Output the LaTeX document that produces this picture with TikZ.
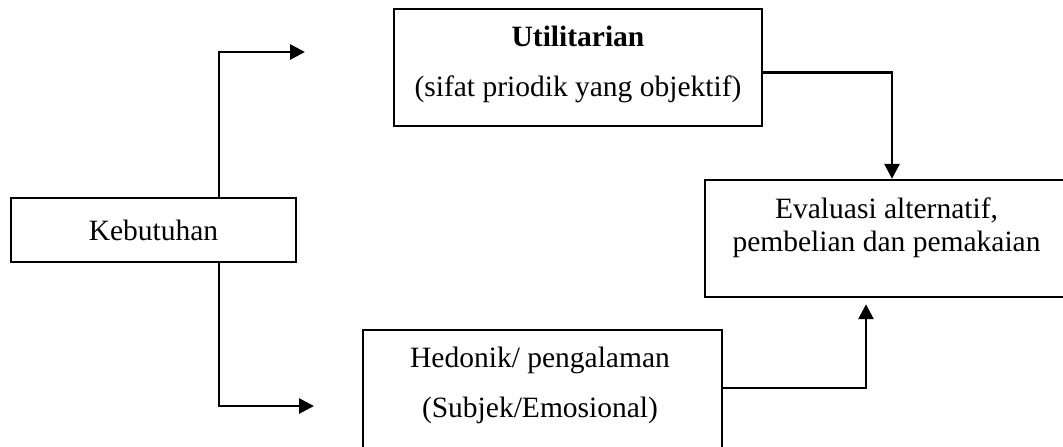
\documentclass[tikz,border=0pt]{standalone}
\usepackage{fontspec}
\setmainfont{Liberation Serif}
\usetikzlibrary{arrows.meta}

\begin{document}
\begin{tikzpicture}[x=0.5pt,y=-0.5pt,
  kotak/.style={draw,line width=1.2pt,inner sep=0pt},
  teks/.style={align=center,inner sep=0pt,font=\fontsize{14.75pt}{25pt}\selectfont},
  panah/.style={line width=1.4pt,-{Triangle[length=7.5pt,width=7.5pt]}}]
\useasboundingbox (0,0) rectangle (1063,446);
\clip (0,0) rectangle (1063,446);
\node [kotak,teks,minimum width=142.5pt,minimum height=32pt] (kebutuhan) at (153.5,230) {Kebutuhan};
\node [kotak,minimum width=184pt,minimum height=58.5pt] (utilitarian) at (578,67.5) {};
\node [teks] (utilitarianTeks) at (578,64) {\textbf{Utilitarian}\\(sifat priodik yang objektif)};
\node [kotak,minimum width=181.5pt,minimum height=58.5pt] (evaluasi) at (886.5,238.5) {};
\node [teks,font=\fontsize{14.75pt}{16.5pt}\selectfont] (evaluasiTeks) at (886.5,228) {Evaluasi alternatif,\\pembelian dan pemakaian};
\node [kotak,minimum width=179.5pt,minimum height=65pt] (hedonik) at (542.5,395) {};
\node [teks] (hedonikTeks) at (540,385) {Hedonik/ pengalaman\\(Subjek/Emosional)};
\coordinate (belokAtas) at (219,52);
\coordinate (ujungAtas) at (305,52);
\coordinate (belokBawah) at (219,406);
\coordinate (ujungBawah) at (314,406);
\coordinate (belokKanan) at (892,72.7);
\coordinate (belokHedonik) at (866,388);
\draw [panah] (kebutuhan.north -| belokAtas) -- (belokAtas) -- (ujungAtas);
\draw [panah] (kebutuhan.south -| belokBawah) -- (belokBawah) -- (ujungBawah);
\draw [panah] (utilitarian.east |- belokKanan) -- (belokKanan) -- (evaluasi.north -| belokKanan);
\draw [panah,shorten >=3pt] (hedonik.east |- belokHedonik) -- (belokHedonik) -- (evaluasi.south -| belokHedonik);
\end{tikzpicture}
\end{document}
